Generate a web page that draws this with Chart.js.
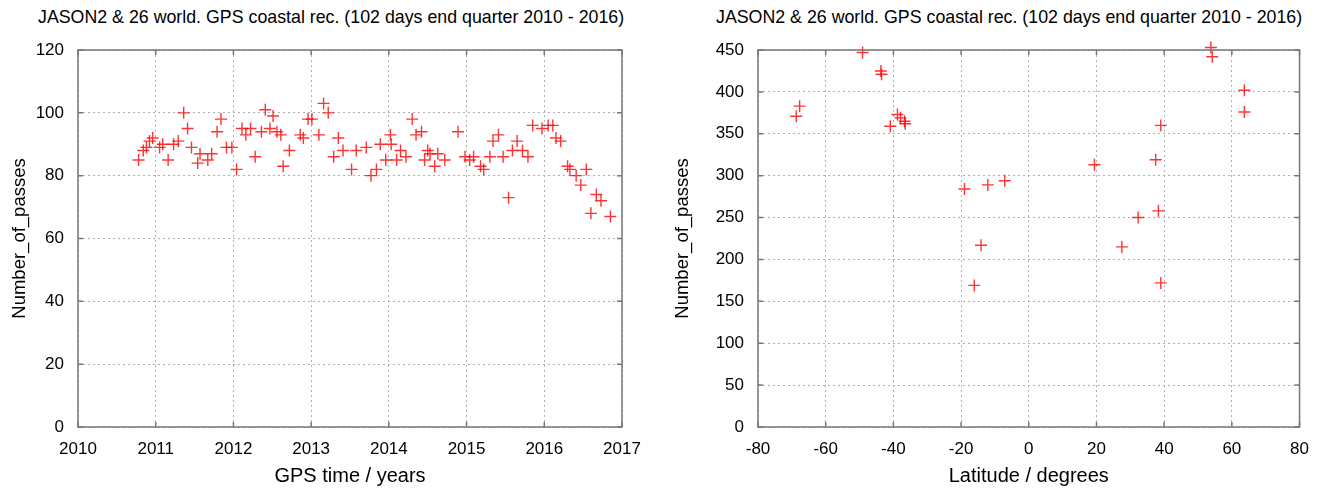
<!DOCTYPE html>
<html>
<head>
<meta charset="utf-8">
<script src="https://cdn.jsdelivr.net/npm/chart.js@4"></script>
<style>
  body { margin: 0; background: #fff; width: 1321px; height: 488px; position: relative; overflow: hidden;
         font-family: "Liberation Sans", Arial, sans-serif; }
  .titulo { position: absolute; top: 7px; font-size: 17.8px; color: #000; white-space: nowrap; }
  .panel { position: absolute; top: 0; height: 488px; }
</style>
</head>
<body>
<div class="titulo" id="t1" style="left:38px">JASON2 &amp; 26 world. GPS coastal rec. (102 days end quarter 2010 - 2016)</div>
<div class="titulo" id="t2" style="left:716px">JASON2 &amp; 26 world. GPS coastal rec. (102 days end quarter 2010 - 2016)</div>
<div class="panel" style="left:0; width:660px"><canvas id="graficoTiempo" width="660" height="488"></canvas></div>
<div class="panel" style="left:660px; width:661px"><canvas id="graficoLatitud" width="661" height="488"></canvas></div>
<script>
// Pasadas por trimestre (tiempo GPS en años)
const anos = [
  2010.78, 2010.84, 2010.88, 2010.92, 2010.96, 2011.05, 2011.09, 2011.16, 2011.23, 2011.29,
  2011.36, 2011.41, 2011.46, 2011.54, 2011.57, 2011.67, 2011.72, 2011.79, 2011.84, 2011.91,
  2011.98, 2012.04, 2012.11, 2012.16, 2012.22, 2012.28, 2012.36, 2012.41, 2012.47, 2012.51,
  2012.56, 2012.61, 2012.64, 2012.72, 2012.86, 2012.90, 2012.96, 2013.01, 2013.10, 2013.16,
  2013.22, 2013.29, 2013.35, 2013.41, 2013.52, 2013.58, 2013.71, 2013.77, 2013.84, 2013.89,
  2013.96, 2014.02, 2014.03, 2014.10, 2014.15, 2014.22, 2014.30, 2014.35, 2014.42, 2014.46,
  2014.50, 2014.53, 2014.59, 2014.63, 2014.72, 2014.89, 2014.98, 2015.04, 2015.09, 2015.18,
  2015.22, 2015.30, 2015.34, 2015.41, 2015.47, 2015.54, 2015.59, 2015.65, 2015.72, 2015.79,
  2015.85, 2015.97, 2016.05, 2016.11, 2016.15, 2016.21, 2016.30, 2016.33, 2016.41, 2016.47,
  2016.54, 2016.60, 2016.67, 2016.73, 2016.85
];
const pasadasTiempo = [
  85, 88, 89, 91, 92, 89, 90, 85, 90, 91,
  100, 95, 89, 84, 87, 85, 87, 94, 98, 89,
  89, 82, 95, 93, 95, 86, 94, 101, 95, 99,
  94, 93, 83, 88, 93, 92, 98, 98, 93, 103,
  100, 86, 92, 88, 82, 88, 89, 80, 82, 90,
  85, 93, 90, 85, 88, 86, 98, 93, 94, 85,
  88, 87, 83, 87, 85, 94, 86, 85, 86, 83,
  82, 86, 91, 93, 86, 73, 88, 91, 88, 86,
  96, 95, 96, 96, 92, 91, 83, 82, 80, 77,
  82, 68, 74, 72, 67
];

// Pasadas por estación (latitud en grados)
const latitudes = [
  -68.7, -67.7, -49.1, -43.7, -43.5, -40.9, -38.8, -37.9, -36.7, -36.5,
  -19.0, -16.1, -14.1, -12.1, -7.1, 19.4, 27.5, 32.3, 37.5, 38.3,
  39.0, 39.0, 53.8, 54.2, 63.7, 63.7
];
const pasadasLatitud = [
  371, 383, 447, 425, 421, 359, 373, 369, 365, 362,
  284, 169, 217, 289, 294, 313, 215, 250, 319, 258,
  172, 360, 453, 442, 402, 376
];

const fuente = "'Liberation Sans', Arial, sans-serif";
Chart.defaults.font.family = fuente;
Chart.defaults.color = '#000';

// Marco completo con marcas hacia dentro (estilo gnuplot)
const marcoPlugin = {
  id: 'marco',
  afterDraw(chart) {
    const ctx = chart.ctx;
    const a = chart.chartArea;
    const len = 5;
    ctx.save();
    ctx.strokeStyle = '#777';
    ctx.lineWidth = 1.5;
    chart.scales.x.ticks.forEach(t => {
      const px = chart.scales.x.getPixelForValue(t.value);
      ctx.beginPath();
      ctx.moveTo(px, a.bottom); ctx.lineTo(px, a.bottom - len);
      ctx.moveTo(px, a.top); ctx.lineTo(px, a.top + len);
      ctx.stroke();
    });
    chart.scales.y.ticks.forEach(t => {
      const py = chart.scales.y.getPixelForValue(t.value);
      ctx.beginPath();
      ctx.moveTo(a.left, py); ctx.lineTo(a.left + len, py);
      ctx.moveTo(a.right, py); ctx.lineTo(a.right - len, py);
      ctx.stroke();
    });
    ctx.strokeRect(a.left, a.top, a.right - a.left, a.bottom - a.top);
    ctx.restore();
  }
};

function crearGrafico(id, xs, ys, opts) {
  const puntos = xs.map((x, i) => ({ x: x, y: ys[i] }));
  const rejilla = { color: '#b0b0b0', lineWidth: 1, drawTicks: false };
  return new Chart(document.getElementById(id).getContext('2d'), {
    type: 'scatter',
    data: {
      datasets: [{
        data: puntos,
        pointStyle: 'cross',
        pointRadius: 6,
        pointHoverRadius: 6,
        borderColor: 'rgba(255, 0, 0, 0.8)',
        backgroundColor: 'rgba(255, 0, 0, 0.8)',
        borderWidth: 1.4,
        clip: false
      }]
    },
    options: {
      responsive: false,
      devicePixelRatio: 1,
      animation: false,
      layout: { padding: { top: 50, right: opts.derecha, left: 0, bottom: 0 } },
      plugins: { legend: { display: false }, tooltip: { enabled: false } },
      scales: {
        x: {
          type: 'linear',
          min: opts.xMin, max: opts.xMax,
          border: { display: false, dash: [2, 3] },
          grid: rejilla,
          ticks: { stepSize: opts.xPaso, padding: 12, font: { size: 17 }, callback: v => v },
          title: { display: true, text: opts.xTitulo, font: { size: 20 }, padding: { top: 0, bottom: 0 } },
          afterFit: s => { s.height = 61; }
        },
        y: {
          min: 0, max: opts.yMax,
          border: { display: false, dash: [2, 3] },
          grid: rejilla,
          ticks: { stepSize: opts.yPaso, padding: 14, font: { size: 17 } },
          title: { display: true, text: 'Number_of_passes', font: { size: 18.5 }, padding: { top: opts.tituloY, bottom: 0 } },
          afterFit: s => { s.width = opts.anchoY; }
        }
      }
    },
    plugins: [marcoPlugin]
  });
}

crearGrafico('graficoTiempo', anos, pasadasTiempo, {
  xMin: 2010, xMax: 2017, xPaso: 1, yMax: 120, yPaso: 20,
  xTitulo: 'GPS time / years', anchoY: 78, derecha: 38, tituloY: 9
});

crearGrafico('graficoLatitud', latitudes, pasadasLatitud, {
  xMin: -80, xMax: 80, xPaso: 20, yMax: 450, yPaso: 50,
  xTitulo: 'Latitude / degrees', anchoY: 98, derecha: 19, tituloY: 12
});
</script>
</body>
</html>
